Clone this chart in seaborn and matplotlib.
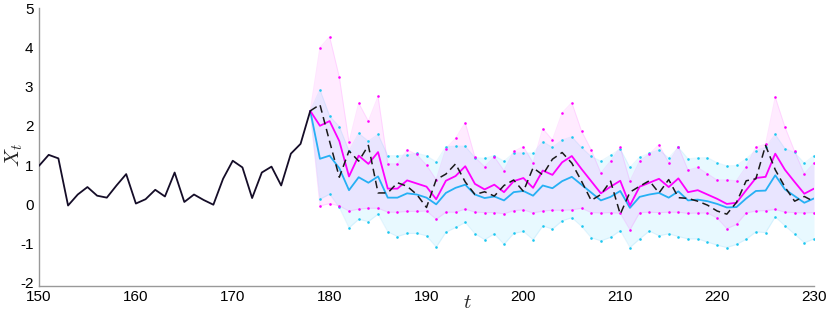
import numpy as np
import seaborn as sns
from matplotlib import pyplot as plt

# observed history
hist_t = np.arange(150, 179)
hist_x = [0.98, 1.26, 1.17, -0.03, 0.25, 0.44, 0.22, 0.17, 0.48, 0.77, 0.02, 0.13, 0.37, 0.2, 0.81,
          0.06, 0.25, 0.11, -0.01, 0.65, 1.11, 0.94, 0.16, 0.81, 0.96, 0.48, 1.29, 1.54, 2.38]

# forecast horizon
fc_t = np.arange(178, 231)
actual = [2.38, 2.54, 1.6, 0.69, 1.36, 1.1, 1.5, 0.29, 0.29, 0.55, 0.46, 0.25, -0.08, 0.63, 0.77,
          1.03, 0.57, 0.25, 0.32, 0.21, 0.48, 0.62, 0.33, 0.93, 0.75, 1.15, 1.32, 1.05, 0.59, 0.1,
          0.25, 0.59, -0.25, 0.31, 0.46, 0.6, 0.29, 0.63, 0.17, 0.15, 0.08, -0.02, -0.17, -0.25,
          0.05, 0.6, 0.65, 1.5, 0.88, 0.44, 0.08, 0.2, 0.07]
mag_mean = [2.38, 2.0, 2.12, 1.61, 0.71, 1.24, 1.03, 1.33, 0.4, 0.4, 0.61, 0.53, 0.45, 0.13, 0.6,
            0.72, 0.97, 0.52, 0.38, 0.5, 0.31, 0.59, 0.67, 0.42, 0.86, 0.75, 1.07, 1.23, 0.9, 0.59,
            0.28, 0.45, 0.6, -0.03, 0.45, 0.55, 0.65, 0.44, 0.66, 0.31, 0.36, 0.25, 0.14, 0.01,
            0.04, 0.36, 0.67, 0.7, 1.29, 0.88, 0.57, 0.27, 0.4]
mag_up = [2.38, 3.99, 4.27, 3.24, 1.58, 2.58, 2.12, 2.75, 1.03, 1.03, 1.39, 1.27, 1.0, 0.63, 1.42,
          1.68, 2.08, 1.2, 0.96, 1.21, 0.86, 1.35, 1.47, 1.06, 1.93, 1.64, 2.33, 2.59, 1.87, 1.39,
          0.8, 1.1, 1.45, 0.59, 1.1, 1.28, 1.52, 1.06, 1.47, 0.87, 0.94, 0.78, 0.62, 0.62, 0.6,
          0.96, 1.46, 1.53, 2.73, 1.97, 1.35, 0.78, 1.05]
mag_lo = [2.38, -0.04, 0.02, -0.04, -0.17, -0.12, -0.1, -0.1, -0.2, -0.2, -0.18, -0.18, -0.17,
          -0.38, -0.2, -0.2, -0.12, -0.2, -0.21, -0.21, -0.24, -0.16, -0.14, -0.22, -0.17, -0.15,
          -0.15, -0.14, -0.1, -0.21, -0.22, -0.21, -0.23, -0.65, -0.21, -0.2, -0.21, -0.2, -0.2,
          -0.23, -0.22, -0.22, -0.35, -0.62, -0.51, -0.22, -0.17, -0.16, -0.13, -0.2, -0.21,
          -0.22, -0.21]
cy_mean = [2.38, 1.16, 1.24, 0.92, 0.36, 0.69, 0.55, 0.71, 0.17, 0.17, 0.28, 0.25, 0.17, 0.0, 0.29,
           0.42, 0.5, 0.25, 0.16, 0.2, 0.1, 0.31, 0.34, 0.22, 0.48, 0.41, 0.59, 0.7, 0.5, 0.3, 0.1,
           0.19, 0.34, -0.09, 0.19, 0.25, 0.29, 0.17, 0.33, 0.1, 0.12, 0.08, 0.01, -0.08, -0.07,
           0.15, 0.34, 0.35, 0.74, 0.38, 0.21, 0.04, 0.15]
cy_up = [2.38, 2.92, 2.25, 1.98, 1.36, 1.81, 1.61, 1.78, 1.24, 1.24, 1.26, 1.3, 1.24, 1.08, 1.47,
         1.48, 1.48, 1.19, 1.17, 1.24, 1.1, 1.31, 1.31, 1.3, 1.6, 1.45, 1.64, 1.72, 1.45, 1.22, 1.1,
         1.25, 1.41, 0.94, 1.2, 1.3, 1.39, 1.18, 1.45, 1.16, 1.18, 1.19, 1.06, 0.98, 0.99, 1.16,
         1.37, 1.45, 1.78, 1.42, 1.32, 1.05, 1.24]
cy_lo = [2.38, 0.13, 0.26, -0.08, -0.6, -0.38, -0.44, -0.25, -0.7, -0.82, -0.74, -0.74, -0.8,
         -1.09, -0.71, -0.59, -0.46, -0.75, -0.9, -0.75, -1.02, -0.74, -0.69, -0.9, -0.55, -0.63,
         -0.42, -0.34, -0.56, -0.85, -0.93, -0.84, -0.67, -1.1, -0.88, -0.68, -0.8, -0.75, -0.82,
         -0.88, -0.88, -0.96, -1.04, -1.1, -1.02, -0.89, -0.7, -0.72, -0.32, -0.55, -0.76, -0.98,
         -0.88]

MAG = '#ff00ff'
CY = '#26b0f4'
CYDOT = '#1ec8f0'

sns.set_style('white')
plt.rcParams['font.family'] = ['Liberation Sans', 'DejaVu Sans']
plt.rcParams['mathtext.fontset'] = 'cm'
plt.rcParams['axes.unicode_minus'] = False

fig = plt.figure(figsize=(8.3, 3.12), dpi=100)
ax = fig.add_axes([39 / 830, 26 / 312, 775 / 830, 278 / 312])

# bands
ax.fill_between(fc_t, cy_lo, cy_up, color='#00bfff', alpha=0.09, lw=0)
ax.fill_between(fc_t, mag_lo, mag_up, color=MAG, alpha=0.08, lw=0)
for arr, c in [(cy_up, CY), (cy_lo, CY), (mag_up, MAG), (mag_lo, MAG)]:
    sns.lineplot(x=fc_t, y=arr, ax=ax, color=c, alpha=0.1, lw=0.8)
for arr in (cy_up, cy_lo):
    sns.scatterplot(x=fc_t[1:], y=arr[1:], ax=ax, color=CYDOT, s=3.5, linewidth=0, zorder=3)
for arr in (mag_up, mag_lo):
    sns.scatterplot(x=fc_t[1:], y=arr[1:], ax=ax, color=MAG, s=3.5, linewidth=0, zorder=3)

sns.lineplot(x=fc_t, y=cy_mean, ax=ax, color=CY, lw=1.3, zorder=4)
sns.lineplot(x=fc_t, y=mag_mean, ax=ax, color=MAG, lw=1.3, zorder=5)
sns.lineplot(x=fc_t, y=actual, ax=ax, color='#1a1a1a', lw=1.1, zorder=6, dashes=False,
             linestyle=(0, (5, 3)))
sns.lineplot(x=hist_t, y=hist_x, ax=ax, color='#150d28', lw=1.3, zorder=6)

ax.set_xlim(150, 230)
ax.set_ylim(-2.08, 5)
ax.set_xticks(range(150, 231, 10))
ax.set_yticks(range(-2, 6))
for s in ['top', 'right']:
    ax.spines[s].set_visible(False)
for s in ['left', 'bottom']:
    ax.spines[s].set_color('#999999')
    ax.spines[s].set_linewidth(1.0)
ax.tick_params(direction='in', length=4, width=0.8, color='#999999', labelsize=11,
               labelcolor='black', pad=4)
ax.tick_params(axis='x', pad=3)
ax.set_xlabel('')
ax.set_ylabel('')

fig.text(14 / 830, 1 - 155 / 312, r'$X_t$', rotation=90, ha='center', va='center', fontsize=15)
fig.text(467 / 830, 1 - 302 / 312, r'$t$', ha='center', va='center', fontsize=15)

plt.savefig('out.png', dpi=100)
